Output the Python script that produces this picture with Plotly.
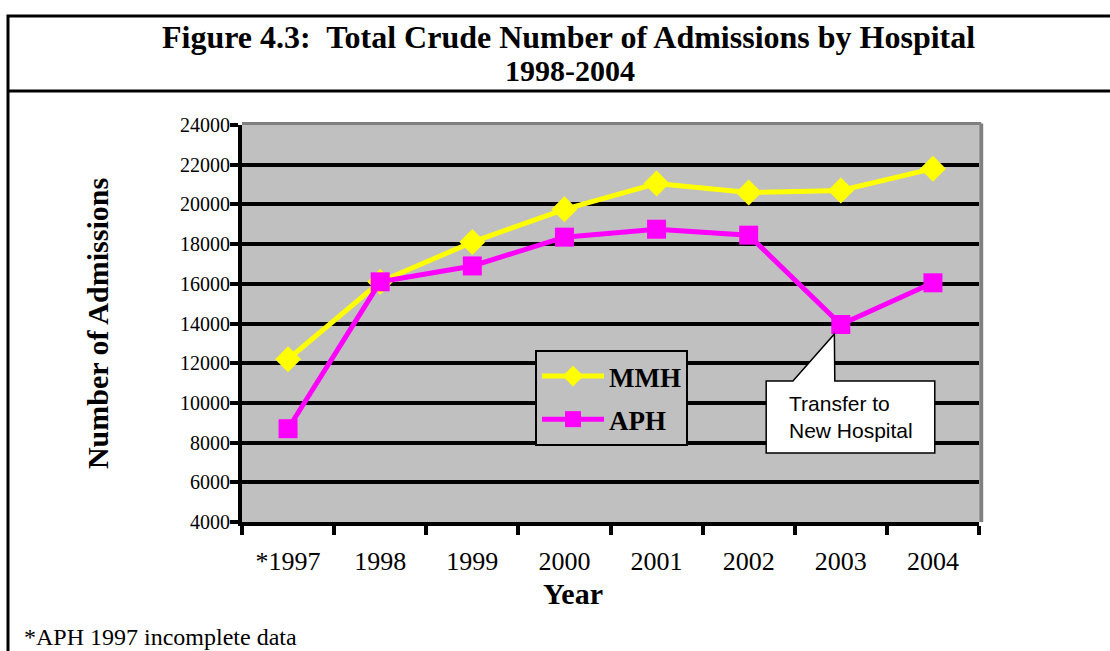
import plotly.graph_objects as go

years = ["*1997", "1998", "1999", "2000", "2001", "2002", "2003", "2004"]
mmh = [12200, 16100, 18100, 19750, 21050, 20600, 20700, 21800]
aph = [8700, 16100, 16900, 18350, 18750, 18450, 13950, 16050]
y_ticks = [4000, 6000, 8000, 10000, 12000, 14000, 16000, 18000, 20000, 22000, 24000]

idx = list(range(len(years)))

W, H = 1110, 651
L, R, T, B = 242, 131, 125, 129
pw, ph = W - L - R, H - T - B

def px(xp):
    return (xp - L) / pw

def py(yp):
    return (H - B - yp) / ph

serif = "Liberation Serif, Times New Roman, serif"
sans = "Liberation Sans, Arial, sans-serif"

fig = go.Figure()
fig.add_trace(go.Scatter(
    x=idx, y=mmh, name="MMH", mode="lines+markers", legendgroup="a",
    line=dict(color="#FFFF00", width=5),
    marker=dict(symbol="diamond", size=20, color="#FFFF00"),
))
fig.add_trace(go.Scatter(
    x=idx, y=aph, name="APH", mode="lines+markers", legendgroup="b",
    line=dict(color="#FF00FF", width=5),
    marker=dict(symbol="square", size=19, color="#FF00FF"),
))

# callout geometry (annotation, not data)
i03 = years.index("2003")
tip_x, tip_y = i03 - 0.07, aph[i03] - 480
bx0, bx1, by0, by1 = 5.19, 7.02, 7480, 11100
wx0, wx1 = 5.48, 5.935
callout = (f"M{bx0},{by1} L{wx0},{by1} L{tip_x},{tip_y} L{wx1},{by1} "
           f"L{bx1},{by1} L{bx1},{by0} L{bx0},{by0} Z")

shapes = [
    # outer frame
    dict(type="rect", xref="paper", yref="paper", x0=px(8), x1=px(1130),
         y0=py(680), y1=py(16), line=dict(color="black", width=3), layer="below"),
    dict(type="line", xref="paper", yref="paper", x0=px(8), x1=px(1130),
         y0=py(91), y1=py(91), line=dict(color="black", width=3)),
    # plot area shading edges
    dict(type="line", xref="paper", yref="paper", x0=0, x1=1.003, y0=1.004, y1=1.004,
         line=dict(color="#808080", width=3)),
    dict(type="line", xref="paper", yref="paper", x0=1.003, x1=1.003, y0=0, y1=1.004,
         line=dict(color="#808080", width=4)),
    # callout
    dict(type="path", xref="x", yref="y", path=callout, fillcolor="white",
         line=dict(color="black", width=1.5), layer="above"),
]

annotations = [
    dict(text="Figure 4.3:\u00a0 Total Crude Number of Admissions by Hospital",
         xref="paper", yref="paper", x=px(568), y=py(37), xanchor="center", yanchor="middle",
         showarrow=False, font=dict(family=serif, size=32, color="black", weight="bold")),
    dict(text="1998-2004",
         xref="paper", yref="paper", x=px(570), y=py(70), xanchor="center", yanchor="middle",
         showarrow=False, font=dict(family=serif, size=30, color="black", weight="bold")),
    dict(text="Year",
         xref="paper", yref="paper", x=px(573), y=py(593), xanchor="center", yanchor="middle",
         showarrow=False, font=dict(family=serif, size=30, color="black", weight="bold")),
    dict(text="Transfer to<br>New Hospital", xref="x", yref="y", x=5.42, y=9290,
         xanchor="left", yanchor="middle", align="left", showarrow=False,
         font=dict(family=sans, size=21, color="black")),
    dict(text="*APH 1997 incomplete data", xref="paper", yref="paper",
         x=px(22), y=py(637), xanchor="left", yanchor="middle", showarrow=False,
         font=dict(family=serif, size=24, color="black")),
]

fig.update_layout(
    width=W, height=H,
    margin=dict(l=L, r=R, t=T, b=B),
    paper_bgcolor="white", plot_bgcolor="#C0C0C0",
    shapes=shapes, annotations=annotations,
    showlegend=True,
    legend=dict(x=px(535), y=py(350), xanchor="left", yanchor="top",
                bgcolor="#C0C0C0", bordercolor="black", borderwidth=2,
                font=dict(family=serif, size=27, color="black", weight="bold"),
                tracegroupgap=5, itemwidth=62),
    xaxis=dict(range=[-0.5, len(years) - 0.5], tickvals=idx, ticktext=years,
               ticks="", showgrid=False, zeroline=False,
               showline=True, linecolor="black", linewidth=4,
               tickfont=dict(family=serif, size=26, color="black"),
               ticklabelstandoff=13,
               minor=dict(tick0=-0.5, dtick=1, ticks="outside", ticklen=9,
                          tickwidth=4, tickcolor="black", showgrid=False)),
    yaxis=dict(range=[y_ticks[0], y_ticks[-1]], tickvals=y_ticks, tickformat="d",
               ticks="outside", ticklen=8, tickwidth=4, tickcolor="black",
               showgrid=True, gridcolor="black", gridwidth=4, zeroline=False,
               showline=True, linecolor="black", linewidth=4,
               tickfont=dict(family=serif, size=20, color="black"),
               ticklabelstandoff=-4,
               title=dict(text="<b>Number of Admissions</b>", standoff=64,
                          font=dict(family=serif, size=30, color="black"))),
)

fig.write_html("out.html", config={"displayModeBar": False},
               post_script="document.body.style.margin='0';document.body.style.overflow='hidden';")
